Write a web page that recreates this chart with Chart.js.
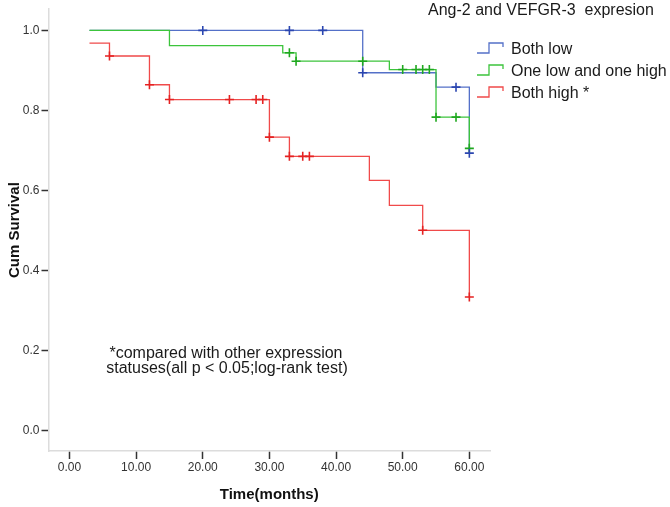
<!DOCTYPE html>
<html>
<head>
<meta charset="utf-8">
<script src="https://cdn.jsdelivr.net/npm/chart.js@4/dist/chart.umd.min.js"></script>
<style>
  html, body { margin: 0; padding: 0; background: #ffffff; }
  #wrap { width: 670px; height: 507px; }
</style>
</head>
<body>
<div id="wrap"><canvas id="c" width="670" height="507"></canvas></div>
<script>
// ---- Data ----
const seriesNames = ['Both low', 'One low and one high', 'Both high *'];
const legendTitle = 'Ang-2 and VEFGR-3  expresion';
const noteLines = ['*compared with other expression', 'statuses(all p < 0.05;log-rank test)'];

// Kaplan-Meier step points (time, survival after that time)
const blueTimes = [3, 44, 55, 60];
const blueSurv  = [1.0, 0.894, 0.858, 0.693];
const blueCensorT = [20, 33, 38, 44, 58, 60];
const blueCensorS = [1.0, 1.0, 1.0, 0.894, 0.858, 0.693];

const greenTimes = [3, 15, 32, 34, 48, 55, 60];
const greenSurv  = [1.0, 0.962, 0.944, 0.923, 0.902, 0.783, 0.705];
const greenCensorT = [33, 34, 44, 50, 52, 53, 54, 55, 58, 60];
const greenCensorS = [0.944, 0.923, 0.923, 0.902, 0.902, 0.902, 0.902, 0.783, 0.783, 0.705];

const redTimes = [3, 6, 12, 15, 30, 33, 45, 48, 53, 60];
const redSurv  = [0.968, 0.936, 0.864, 0.827, 0.733, 0.685, 0.625, 0.5625, 0.5, 0.333];
const redCensorT = [6, 12, 15, 24, 28, 29, 30, 33, 35, 36, 53, 60];
const redCensorS = [0.936, 0.864, 0.827, 0.827, 0.827, 0.827, 0.733, 0.685, 0.685, 0.685, 0.5, 0.333];

const xTicks = [0, 10, 20, 30, 40, 50, 60];
const yTicks = [0, 0.2, 0.4, 0.6, 0.8, 1.0];

// ---- Styling ----
const FONT = "'Liberation Sans', Arial, Helvetica, sans-serif";
const lineColors = ['#5470c8', '#3cc43c', '#f04a4a'];
const markColors = ['#2b46b0', '#1fa81f', '#e52222'];

function pts(t, s) { return t.map((v, i) => ({ x: v, y: s[i] })); }

const stepSets = [
  [blueTimes, blueSurv, blueCensorT, blueCensorS],
  [greenTimes, greenSurv, greenCensorT, greenCensorS],
  [redTimes, redSurv, redCensorT, redCensorS]
];
const drawOrder = [3, 2, 1];

const datasets = [];
stepSets.forEach((s, i) => {
  datasets.push({
    label: seriesNames[i],
    data: pts(s[0], s[1]),
    borderColor: lineColors[i],
    borderWidth: 1.3,
    stepped: 'before',
    pointRadius: 0,
    fill: false,
    order: drawOrder[i]
  });
  datasets.push({
    label: seriesNames[i] + ' censored',
    data: pts(s[2], s[3]),
    showLine: false,
    pointStyle: 'cross',
    pointRadius: 4.5,
    pointBorderWidth: 1.6,
    pointBorderColor: markColors[i],
    pointBackgroundColor: markColors[i],
    order: 0
  });
});

const overlay = {
  id: 'overlay',
  afterDraw(chart) {
    const ctx = chart.ctx;
    ctx.save();
    // legend title
    ctx.fillStyle = '#1a1a1a';
    ctx.font = '16px ' + FONT;
    ctx.textBaseline = 'middle';
    ctx.textAlign = 'left';
    ctx.fillText(legendTitle, 428, 11);
    // legend entries
    const rowsY = [49, 71, 93];
    seriesNames.forEach((name, i) => {
      const y = rowsY[i];
      ctx.strokeStyle = lineColors[i];
      ctx.lineWidth = 1.3;
      ctx.beginPath();
      ctx.moveTo(477, y + 4);
      ctx.lineTo(489, y + 4);
      ctx.lineTo(489, y - 6);
      ctx.lineTo(503, y - 6);
      ctx.lineTo(503, y - 2);
      ctx.stroke();
      ctx.fillStyle = '#1a1a1a';
      ctx.font = '16px ' + FONT;
      ctx.fillText(name, 511, y + 1);
    });
    // note text
    ctx.font = '16px ' + FONT;
    ctx.textAlign = 'center';
    ctx.fillStyle = '#1a1a1a';
    ctx.fillText(noteLines[0], 226, 354);
    ctx.fillText(noteLines[1], 227, 369);
    ctx.restore();
  }
};

new Chart(document.getElementById('c'), {
  type: 'line',
  data: { datasets },
  options: {
    responsive: false,
    animation: false,
    devicePixelRatio: 1,
    layout: { padding: { left: 0, top: 8, right: 180, bottom: 0 } },
    plugins: { legend: { display: false }, tooltip: { enabled: false } },
    scales: {
      x: {
        type: 'linear',
        min: -3.15,
        max: 63.1,
        afterBuildTicks: (sc) => { sc.ticks = xTicks.map(v => ({ value: v })); },
        afterFit: (sc) => { sc.height = 56; },
        ticks: {
          callback: (v) => Number(v).toFixed(2),
          font: { family: FONT, size: 12 },
          color: '#333333',
          padding: 1,
          maxRotation: 0,
          autoSkip: false
        },
        grid: { drawOnChartArea: false, drawTicks: true, tickLength: 8, tickColor: '#333333', tickWidth: 1.5 },
        border: { color: '#dcdcdc', width: 1.5 },
        title: {
          display: true,
          text: 'Time(months)',
          font: { family: FONT, size: 15, weight: 'bold' },
          color: '#111111',
          padding: { top: 0, bottom: 3 }
        }
      },
      y: {
        type: 'linear',
        min: -0.052,
        max: 1.053,
        afterBuildTicks: (sc) => { sc.ticks = yTicks.map(v => ({ value: v })); },
        afterFit: (sc) => { sc.width = 48.5; },
        ticks: {
          callback: (v) => Number(v).toFixed(1),
          font: { family: FONT, size: 12 },
          color: '#333333',
          padding: 2,
          autoSkip: false
        },
        grid: { drawOnChartArea: false, drawTicks: true, tickLength: 7, tickColor: '#333333', tickWidth: 1.5 },
        border: { color: '#dcdcdc', width: 1.5 },
        title: {
          display: true,
          text: 'Cum Survival',
          font: { family: FONT, size: 15, weight: 'bold' },
          color: '#111111',
          padding: { top: 6, bottom: 0 }
        }
      }
    }
  },
  plugins: [overlay]
});
</script>
</body>
</html>
